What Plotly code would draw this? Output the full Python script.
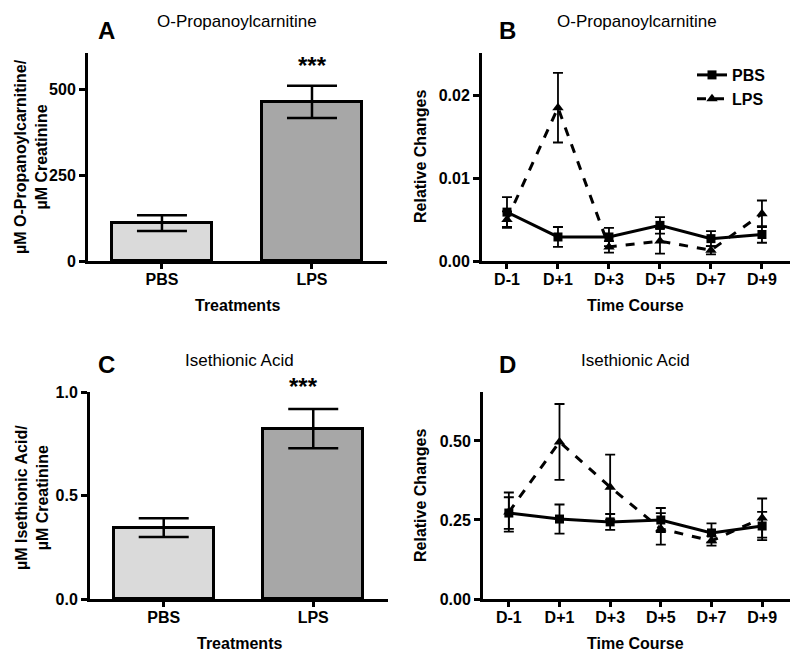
import plotly.graph_objects as go

# ---------------- data ----------------
treatments = ["PBS", "LPS"]
propanoyl_mean = [110, 463]
propanoyl_err = [23, 47]
isethionic_mean = [0.345, 0.823]
isethionic_err = [0.045, 0.095]

days = ["D-1", "D+1", "D+3", "D+5", "D+7", "D+9"]
b_pbs = [0.0059, 0.0029, 0.0029, 0.0043, 0.0027, 0.0032]
b_pbs_err = [0.0018, 0.0012, 0.0011, 0.0010, 0.0009, 0.0010]
b_lps = [0.0050, 0.0185, 0.0017, 0.0024, 0.0013, 0.0057]
b_lps_err = [0.0010, 0.0042, 0.0007, 0.0015, 0.0005, 0.0016]

d_pbs = [0.272, 0.253, 0.244, 0.250, 0.209, 0.231]
d_pbs_err = [0.050, 0.046, 0.025, 0.038, 0.030, 0.045]
d_lps = [0.275, 0.497, 0.354, 0.222, 0.184, 0.256]
d_lps_err = [0.062, 0.120, 0.103, 0.050, 0.015, 0.062]

OFF = 8  # page body margin
W, H = 800 - OFF, 658 - OFF
FONT = "Liberation Sans, Arial, sans-serif"

def px(x):
    return (x - OFF) / W

def py(y):
    return 1 - (y - OFF) / H

fig = go.Figure()

bar_colors = ["#dadada", "#a7a7a7"]
xb = [0, 1]

# Panel A
fig.add_trace(go.Bar(x=xb, y=propanoyl_mean, width=0.667,
                     marker=dict(color=bar_colors, line=dict(color="black", width=3)),
                     error_y=dict(type="data", array=propanoyl_err, color="black",
                                  thickness=2.5, width=25),
                     showlegend=False, xaxis="x", yaxis="y"))
# Panel C
fig.add_trace(go.Bar(x=xb, y=isethionic_mean, width=0.667,
                     marker=dict(color=bar_colors, line=dict(color="black", width=3)),
                     error_y=dict(type="data", array=isethionic_err, color="black",
                                  thickness=2.5, width=25),
                     showlegend=False, xaxis="x3", yaxis="y3"))

xi = list(range(len(days)))

def line_pair(pbs, pbs_err, lps, lps_err, xa, ya, legend):
    fig.add_trace(go.Scatter(x=xi, y=pbs, mode="lines+markers", name="PBS",
                             line=dict(color="black", width=3),
                             marker=dict(symbol="square", size=9, color="black"),
                             error_y=dict(type="data", array=pbs_err, color="black",
                                          thickness=1.8, width=5),
                             showlegend=legend, xaxis=xa, yaxis=ya))
    fig.add_trace(go.Scatter(x=xi, y=lps, mode="lines+markers", name="LPS",
                             line=dict(color="black", width=3, dash="dash"),
                             marker=dict(symbol="triangle-up", size=10, color="black"),
                             error_y=dict(type="data", array=lps_err, color="black",
                                          thickness=1.8, width=5),
                             showlegend=legend, xaxis=xa, yaxis=ya))

line_pair(b_pbs, b_pbs_err, b_lps, b_lps_err, "x2", "y2", True)
line_pair(d_pbs, d_pbs_err, d_lps, d_lps_err, "x4", "y4", False)

tickfont = dict(family=FONT, size=16, color="black", weight="bold")
axis_common = dict(showline=True, linecolor="black", linewidth=3, ticks="outside",
                   tickcolor="black", tickwidth=2.5, showgrid=False,
                   zeroline=False, tickfont=tickfont, fixedrange=True, automargin=False)
xcommon = dict(ticklen=5, ticklabelstandoff=-3, **axis_common)
ycommon = dict(ticklen=6, **axis_common)

top_dom = [py(261), py(53)]
bot_dom = [py(599), py(392)]

fig.update_layout(
    template="none",
    width=W, height=H, margin=dict(l=0, r=0, t=0, b=0, pad=0, autoexpand=False),
    paper_bgcolor="white", plot_bgcolor="white",
    font=dict(family=FONT, color="black"),
    xaxis=dict(domain=[px(88), px(387)], range=[-0.493, 1.5], tickvals=xb,
               ticktext=treatments, anchor="y", **xcommon),
    yaxis=dict(domain=top_dom, range=[0, 605], tickvals=[0, 250, 500],
               anchor="x", **ycommon),
    xaxis2=dict(domain=[px(482), px(790)], range=[-0.49, 5.55], tickvals=xi,
                ticktext=days, anchor="y2", **xcommon),
    yaxis2=dict(domain=top_dom, range=[0, 0.0251], tickvals=[0, 0.01, 0.02],
                ticktext=["0.00", "0.01", "0.02"], anchor="x2", **ycommon),
    xaxis3=dict(domain=[px(90), px(388)], range=[-0.493, 1.5], tickvals=xb,
                ticktext=treatments, anchor="y3", **xcommon),
    yaxis3=dict(domain=bot_dom, range=[0, 1.0], tickvals=[0, 0.5, 1.0],
                ticktext=["0.0", "0.5", "1.0"], anchor="x3", **ycommon),
    xaxis4=dict(domain=[px(483), px(790)], range=[-0.51, 5.55], tickvals=xi,
                ticktext=days, anchor="y4", **xcommon),
    yaxis4=dict(domain=bot_dom, range=[0, 0.655], tickvals=[0, 0.25, 0.5],
                ticktext=["0.00", "0.25", "0.50"], anchor="x4", **ycommon),
    legend=dict(x=px(692), y=py(58), xanchor="left", yanchor="top",
                font=dict(family=FONT, size=16, color="black", weight="bold"),
                bgcolor="rgba(0,0,0,0)", tracegroupgap=0, itemwidth=30),
    bargap=0,
)

ann = []
def text(x, y, s, size, bold=False, angle=0):
    ann.append(dict(x=px(x), y=py(y), xref="paper", yref="paper", text=s,
                    showarrow=False, textangle=angle, xanchor="center", yanchor="middle",
                    font=dict(family=FONT, size=size, color="black",
                              weight="bold" if bold else "normal")))

# panel letters
text(106, 30, "A", 24, True)
text(508, 30, "B", 24, True)
text(106, 364, "C", 24, True)
text(508, 364, "D", 24, True)
# titles
text(237, 21, "O-Propanoylcarnitine", 17)
text(637, 21, "O-Propanoylcarnitine", 17)
text(239, 360, "Isethionic Acid", 17)
text(635, 360, "Isethionic Acid", 17)
# x titles
text(237, 305, "Treatments", 16, True)
text(635, 305, "Time Course", 16, True)
text(239, 643, "Treatments", 16, True)
text(635, 643, "Time Course", 16, True)
# y titles
text(31, 157, "µM O-Propanoylcarnitine/<br>µM Creatinine", 16, True, -90)
text(420, 157, "Relative Changes", 16, True, -90)
text(32, 498, "µM Isethionic Acid/<br>µM Creatinine", 16, True, -90)
text(420, 496, "Relative Changes", 16, True, -90)
# significance
text(312, 66, "***", 24, True)
text(303, 386, "***", 24, True)

fig.update_layout(annotations=ann)

fig.write_html("out.html")
